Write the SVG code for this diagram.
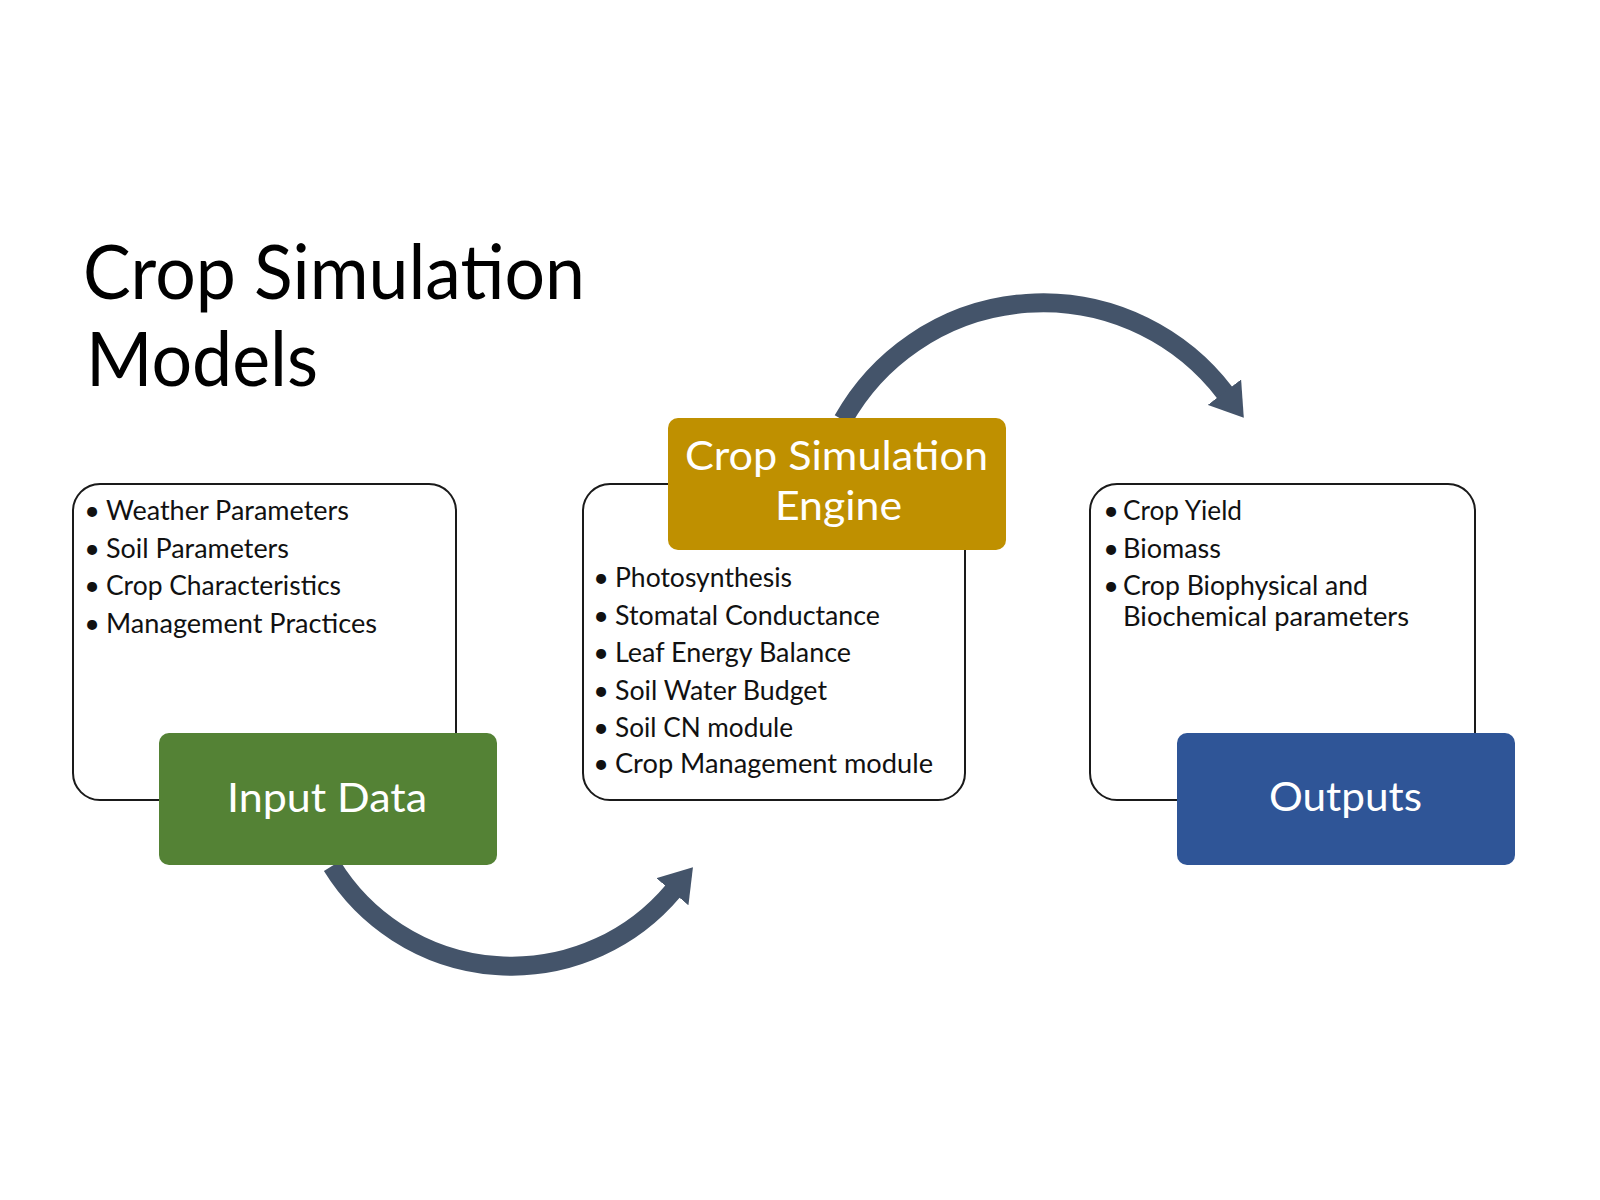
<svg xmlns="http://www.w3.org/2000/svg" width="1600" height="1200" viewBox="0 0 1600 1200">
  <style>
    .frame { fill: #ffffff; stroke: #1a1a1a; stroke-width: 2; }
    .item { font-family: Lato, "Open Sans", sans-serif; font-size: 27px; fill: #111111; }
    .bul { font-family: Lato, "Open Sans", sans-serif; font-size: 27px; fill: #111111; text-anchor: middle; }
    .label { font-family: Lato, "Open Sans", sans-serif; font-size: 40px; fill: #ffffff; }
    .title { font-family: Lato, "Open Sans", sans-serif; font-size: 76px; fill: #000000; }
    .arc { fill: none; stroke: #44546A; stroke-width: 19; }
  </style>
  <defs>
    <marker id="head" markerUnits="userSpaceOnUse" viewBox="0 -21 32 42" markerWidth="32" markerHeight="42" refX="1" refY="0" orient="auto">
      <path d="M0,-21 L32,0 L0,21 z" fill="#44546A"/>
    </marker>
  </defs>
  <rect width="1600" height="1200" fill="#ffffff"/>

  <g id="title">
    <text class="title" x="83" y="299" textLength="502" lengthAdjust="spacingAndGlyphs">Crop Simulation</text>
    <text class="title" x="86" y="386" textLength="232" lengthAdjust="spacingAndGlyphs">Models</text>
  </g>

  <g id="connectors">
    <path class="arc" d="M 843 420 A 229 229 0 0 1 1225 393" marker-end="url(#head)"/>
    <path class="arc" d="M 332 866 A 211 211 0 0 0 673 891" marker-end="url(#head)"/>
  </g>

  <g id="input-data">
    <rect class="frame" x="73" y="484" width="383" height="316" rx="27" ry="27"/>
    <text class="bul" x="92" y="520">•</text>
    <text class="item" x="106" y="520" textLength="243" lengthAdjust="spacingAndGlyphs">Weather Parameters</text>
    <text class="bul" x="92" y="558">•</text>
    <text class="item" x="106" y="558" textLength="183" lengthAdjust="spacingAndGlyphs">Soil Parameters</text>
    <text class="bul" x="92" y="595">•</text>
    <text class="item" x="106" y="595" textLength="235" lengthAdjust="spacingAndGlyphs">Crop Characteristics</text>
    <text class="bul" x="92" y="633">•</text>
    <text class="item" x="106" y="633" textLength="271" lengthAdjust="spacingAndGlyphs">Management Practices</text>
    <rect x="159" y="733" width="338" height="132" rx="10" ry="10" fill="#548235"/>
    <text class="label" x="227" y="812" textLength="200" lengthAdjust="spacingAndGlyphs">Input Data</text>
  </g>

  <g id="engine">
    <rect class="frame" x="583" y="484" width="382" height="316" rx="27" ry="27"/>
    <rect x="668" y="418" width="338" height="132" rx="10" ry="10" fill="#BF9000"/>
    <text class="label" x="685" y="470" textLength="303" lengthAdjust="spacingAndGlyphs">Crop Simulation</text>
    <text class="label" x="775" y="520" textLength="127" lengthAdjust="spacingAndGlyphs">Engine</text>
    <text class="bul" x="601" y="587">•</text>
    <text class="item" x="615" y="587" textLength="177" lengthAdjust="spacingAndGlyphs">Photosynthesis</text>
    <text class="bul" x="601" y="625">•</text>
    <text class="item" x="615" y="625" textLength="265" lengthAdjust="spacingAndGlyphs">Stomatal Conductance</text>
    <text class="bul" x="601" y="662">•</text>
    <text class="item" x="615" y="662" textLength="236" lengthAdjust="spacingAndGlyphs">Leaf Energy Balance</text>
    <text class="bul" x="601" y="700">•</text>
    <text class="item" x="615" y="700" textLength="212" lengthAdjust="spacingAndGlyphs">Soil Water Budget</text>
    <text class="bul" x="601" y="737">•</text>
    <text class="item" x="615" y="737" textLength="178" lengthAdjust="spacingAndGlyphs">Soil CN module</text>
    <text class="bul" x="601" y="773">•</text>
    <text class="item" x="615" y="773" textLength="318" lengthAdjust="spacingAndGlyphs">Crop Management module</text>
  </g>

  <g id="outputs">
    <rect class="frame" x="1090" y="484" width="385" height="316" rx="27" ry="27"/>
    <text class="bul" x="1111" y="520">•</text>
    <text class="item" x="1123" y="520" textLength="119" lengthAdjust="spacingAndGlyphs">Crop Yield</text>
    <text class="bul" x="1111" y="558">•</text>
    <text class="item" x="1123" y="558" textLength="98" lengthAdjust="spacingAndGlyphs">Biomass</text>
    <text class="bul" x="1111" y="595">•</text>
    <text class="item" x="1123" y="595" textLength="245" lengthAdjust="spacingAndGlyphs">Crop Biophysical and</text>
    <text class="item" x="1123" y="626" textLength="286" lengthAdjust="spacingAndGlyphs">Biochemical parameters</text>
    <rect x="1177" y="733" width="338" height="132" rx="10" ry="10" fill="#2F5597"/>
    <text class="label" x="1269" y="811" textLength="153" lengthAdjust="spacingAndGlyphs">Outputs</text>
  </g>
</svg>
